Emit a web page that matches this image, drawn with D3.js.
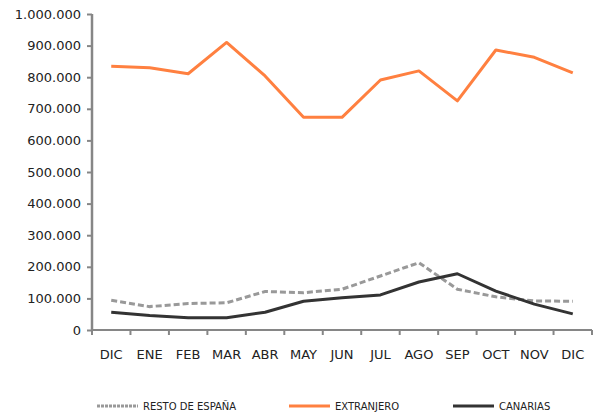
<!DOCTYPE html>
<html>
<head>
<meta charset="utf-8">
<script src="https://cdn.jsdelivr.net/npm/d3@7"></script>
<style>
body { margin: 0; background: #fff; }
text { font-family: "DejaVu Sans", Verdana, sans-serif; fill: #222; }
</style>
</head>
<body>
<div id="chart"></div>
<script>
var WIDTH = 599, HEIGHT = 414;

// data
var months = ["DIC", "ENE", "FEB", "MAR", "ABR", "MAY", "JUN", "JUL", "AGO", "SEP", "OCT", "NOV", "DIC2"];
var monthLabels = ["DIC", "ENE", "FEB", "MAR", "ABR", "MAY", "JUN", "JUL", "AGO", "SEP", "OCT", "NOV", "DIC"];
var resto = [94000, 74000, 84000, 86000, 122000, 118000, 129000, 171000, 213000, 129000, 105000, 92000, 91000];
var extranjero = [835000, 830000, 811000, 910000, 804000, 673000, 673000, 791000, 820000, 725000, 886000, 863000, 814000];
var canarias = [56000, 46000, 39000, 39000, 56000, 91000, 102000, 111000, 152000, 178000, 123000, 82000, 51000];
var yTicks = [0, 100000, 200000, 300000, 400000, 500000, 600000, 700000, 800000, 900000, 1000000];

var seriesNames = ["RESTO DE ESPAÑA", "EXTRANJERO", "CANARIAS"];
var seriesColors = ["#999999", "#ff8040", "#333333"];

var LEFT = 92, RIGHT = 7, TOP = 14, BOTTOM = 84;

const svg = d3.select("#chart").append("svg").attr("width", WIDTH).attr("height", HEIGHT)
const g = svg.append("g").attr("transform", "translate(" + LEFT + "," + TOP + ")")

const x_scale = d3.scaleBand().range([0, WIDTH - LEFT - RIGHT]).domain(months)
const y_scale = d3.scaleLinear().range([HEIGHT - TOP - BOTTOM, 0]).domain([0, 1000000])

const fmt = d => d3.format(",")(d).replace(/,/g, ".")

// y axis
const gen_y = d3.axisLeft(y_scale).tickValues(yTicks).tickFormat(fmt).tickSize(5).tickPadding(6)
const yAxis = g.append("g").attr("class", "y axis").call(gen_y)
yAxis.selectAll("text").style("font-size", "13px").attr("font-family", null)

// x axis, ticks on band edges
const plotH = HEIGHT - TOP - BOTTOM
const xAxis = g.append("g").attr("class", "x axis").attr("transform", "translate(0," + plotH + ")")
xAxis.append("line").attr("x1", 0).attr("x2", WIDTH - LEFT - RIGHT).attr("y1", 0).attr("y2", 0)
var edges = months.map(m => x_scale(m)).concat([x_scale.range()[1]])
xAxis.selectAll("line.tk").data(edges).enter().append("line").attr("class", "tk")
    .attr("x1", d => d).attr("x2", d => d).attr("y1", 0).attr("y2", 5)
xAxis.selectAll("text").data(months).enter().append("text")
    .attr("x", d => x_scale(d) + x_scale.bandwidth() / 2).attr("y", 29)
    .attr("text-anchor", "middle").style("font-size", "13px")
    .text((d, i) => monthLabels[i])

svg.selectAll(".axis path, .axis line").attr("stroke", "#868686").attr("stroke-width", 2)
yAxis.select("path").attr("d", "M0," + plotH + "V0").attr("stroke-width", 2.5)

// lines
const lineGen = d3.line().x((d, i) => x_scale(months[i]) + x_scale.bandwidth() / 2).y(d => y_scale(d))

g.append("path").datum(resto).attr("d", lineGen).attr("fill", "none")
    .attr("stroke", seriesColors[0]).attr("stroke-width", 3).attr("stroke-dasharray", "6,3")
g.append("path").datum(extranjero).attr("d", lineGen).attr("fill", "none")
    .attr("stroke", seriesColors[1]).attr("stroke-width", 3).attr("stroke-linejoin", "round")
g.append("path").datum(canarias).attr("d", lineGen).attr("fill", "none")
    .attr("stroke", seriesColors[2]).attr("stroke-width", 3).attr("stroke-linejoin", "round")

// legend
var legX = [97, 289, 453]
seriesNames.forEach((name, i) => {
    const row = svg.append("g").attr("transform", "translate(" + legX[i] + ",406)")
    row.append("line").attr("x1", 0).attr("x2", 41).attr("y1", 0).attr("y2", 0)
        .attr("stroke", seriesColors[i]).attr("stroke-width", 3)
        .attr("stroke-dasharray", i == 0 ? "3,1" : null)
    row.append("text").attr("x", 46).attr("y", 4).style("font-size", "10px").text(name)
})
</script>
</body>
</html>
